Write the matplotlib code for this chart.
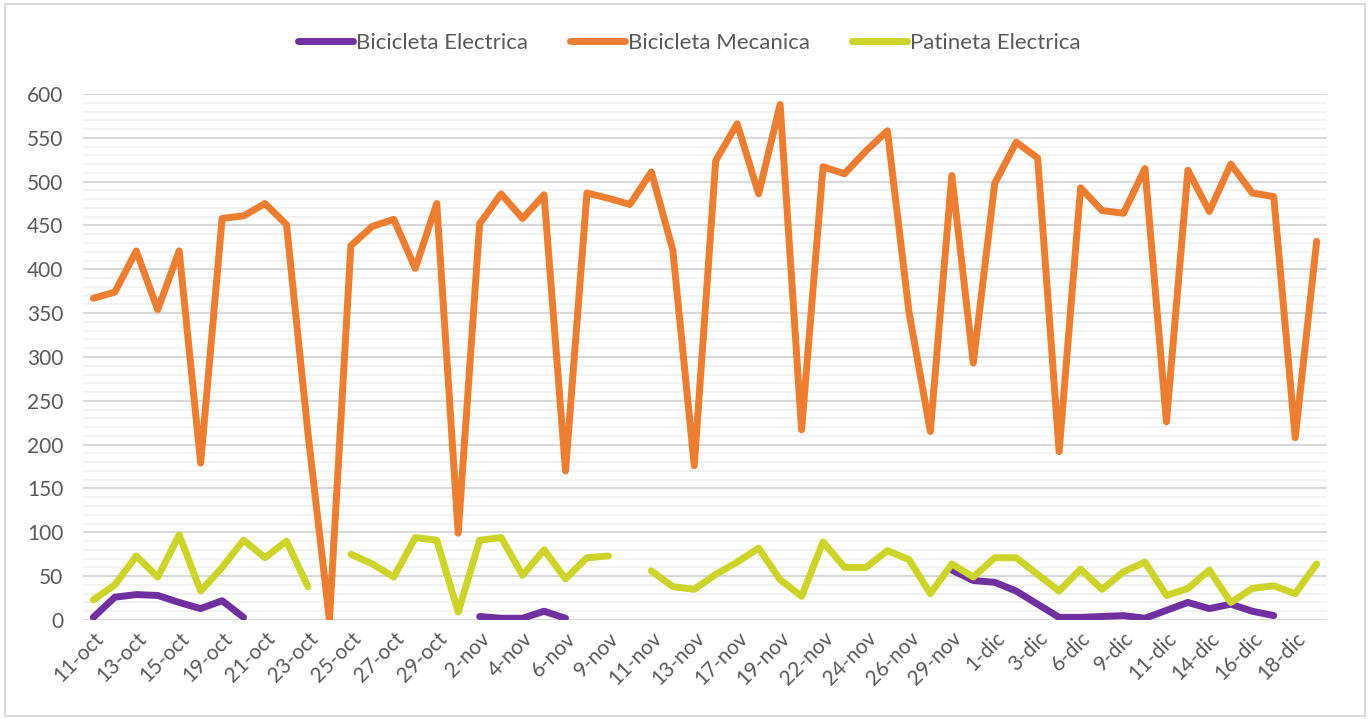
import numpy as np
import matplotlib
matplotlib.use('Agg')
import matplotlib.pyplot as plt
from matplotlib.patches import Rectangle

nan = np.nan

dates = ['11-oct', '12-oct', '13-oct', '14-oct', '15-oct', '18-oct', '19-oct', '20-oct',
         '21-oct', '22-oct', '23-oct', '24-oct', '25-oct', '26-oct', '27-oct', '28-oct',
         '29-oct', '30-oct', '2-nov', '3-nov', '4-nov', '5-nov', '6-nov', '8-nov',
         '9-nov', '10-nov', '11-nov', '12-nov', '13-nov', '16-nov', '17-nov', '18-nov',
         '19-nov', '21-nov', '22-nov', '23-nov', '24-nov', '25-nov', '26-nov', '28-nov',
         '29-nov', '30-nov', '1-dic', '2-dic', '3-dic', '5-dic', '6-dic', '7-dic',
         '9-dic', '10-dic', '11-dic', '13-dic', '14-dic', '15-dic', '16-dic', '17-dic',
         '18-dic', '19-dic']

bici_electrica = [3, 26, 29, 28, 20, 13, 22, 3, nan, nan,
                  nan, nan, nan, nan, nan, nan, nan, nan, 4, 2,
                  2, 10, 2, nan, nan, nan, nan, nan, nan, nan,
                  nan, nan, nan, nan, nan, nan, nan, nan, nan, nan,
                  57, 45, 43, 33, 18, 3, 3, 4, 5, 2,
                  11, 20, 13, 18, 10, 5, nan, nan]

bici_mecanica = [367, 374, 421, 354, 421, 179, 458, 461, 475, 451,
                 213, 0, 427, 449, 457, 401, 475, 99, 452, 486,
                 458, 485, 170, 487, 481, 474, 511, 422, 176, 524,
                 566, 486, 588, 217, 517, 509, 535, 558, 352, 215,
                 507, 293, 498, 545, 527, 192, 493, 467, 464, 515,
                 226, 513, 466, 520, 487, 483, 208, 432]

patineta = [23, 40, 73, 49, 97, 33, 60, 91, 71, 90,
            38, nan, 75, 64, 49, 94, 91, 9, 91, 94,
            51, 80, 47, 71, 73, nan, 56, 38, 35, 52,
            66, 82, 46, 27, 89, 60, 60, 79, 69, 30,
            64, 49, 71, 71, 52, 33, 58, 35, 55, 66,
            28, 36, 57, 20, 36, 39, 30, 64]

series = [('Bicicleta Electrica', bici_electrica, '#7030A0'),
          ('Bicicleta Mecanica', bici_mecanica, '#ED7D31'),
          ('Patineta Electrica', patineta, '#CCD42A')]

plt.rcParams['font.family'] = ['Lato', 'DejaVu Sans']
text_color = '#595959'

fig = plt.figure(figsize=(13.7, 7.19), dpi=100)
ax = fig.add_axes([0.0603, 0.1377, 0.9086, 0.7316])

x = np.arange(len(dates))
for name, values, color in series:
    ax.plot(x, np.array(values, dtype=float), color=color, lw=5,
            solid_capstyle='round', solid_joinstyle='round', label=name)

ax.set_xlim(-0.5, len(dates) - 0.5)
ax.set_ylim(0, 600)
ax.set_yticks(np.arange(0, 601, 50))
ax.set_yticks(np.arange(0, 601, 10), minor=True)
ax.grid(axis='y', which='minor', color='#F2F2F2', lw=1.3, zorder=0)
ax.grid(axis='y', which='major', color='#D9D9D9', lw=1.5, zorder=0)
ax.set_axisbelow(True)

ax.set_xticks(x[::2])
ax.set_xticklabels(dates[::2], rotation=45, ha='right', va='top',
                   rotation_mode='anchor')
ax.tick_params(axis='both', which='both', length=0, labelsize=15,
               labelcolor=text_color)
ax.tick_params(axis='y', pad=14)
ax.tick_params(axis='x', pad=6)
for spine in ax.spines.values():
    spine.set_visible(False)

leg = fig.legend(loc='center', bbox_to_anchor=(0.503, 0.94), ncol=3,
                 frameon=False, fontsize=16, handlelength=2.5,
                 handletextpad=0.1, columnspacing=1.9)
for text in leg.get_texts():
    text.set_color(text_color)
for line in leg.get_lines():
    line.set_solid_capstyle('round')

fig.patches.append(Rectangle((5 / 1370, 3 / 719), 1360 / 1370, 712 / 719,
                             transform=fig.transFigure, fill=False,
                             edgecolor='#D9D9D9', lw=1.5))

fig.savefig('out.png', dpi=100)
